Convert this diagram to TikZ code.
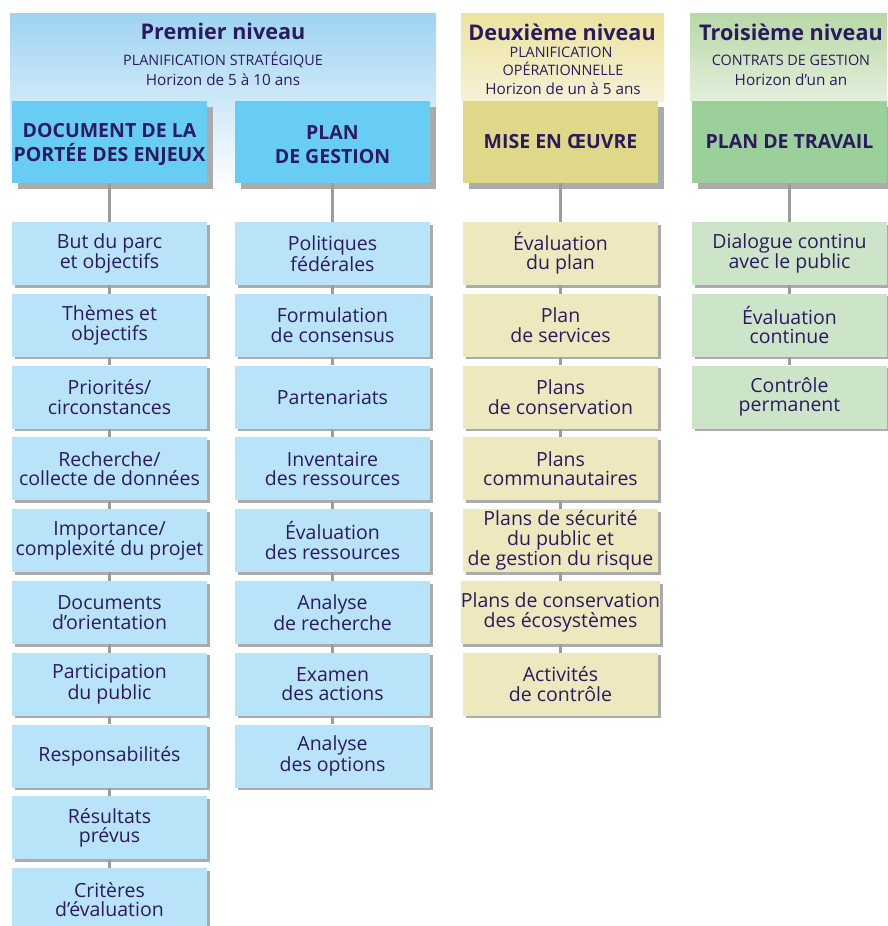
\documentclass[tikz,border=0pt]{standalone}
\usepackage{fontspec}
\setmainfont{Open Sans}
\usetikzlibrary{shadows}
\definecolor{ink}{HTML}{2B1B5E}
\definecolor{shd}{HTML}{ABABAB}
\definecolor{conncol}{HTML}{9C9C9C}
\definecolor{bluetop}{HTML}{68CDF4}
\definecolor{bluechild}{HTML}{B9E3F8}
\definecolor{blueband}{HTML}{9ED3F1}
\definecolor{yeltop}{HTML}{E0D889}
\definecolor{yelchild}{HTML}{EEE8BF}
\definecolor{yelbandA}{HTML}{ECE39E}
\definecolor{yelbandB}{HTML}{F6F1D6}
\definecolor{grntop}{HTML}{9BD09B}
\definecolor{grnchild}{HTML}{CCE5C9}
\definecolor{grnbandA}{HTML}{B7D8A6}
\definecolor{grnbandB}{HTML}{E4EFDC}
\newcommand\childfont{\fontsize{19.5}{19.4}\selectfont}
\newcommand\topfont{\fontsize{19.5}{24}\selectfont\bfseries}
\newcommand\titfont{\fontsize{21.6}{24}\selectfont\bfseries}
\newcommand\capfont{\fontsize{14.4}{18}\selectfont}
\newcommand\subfont{\fontsize{15.3}{18}\selectfont}
\begin{document}
\begin{tikzpicture}[x=1pt,y=-1pt,
  topbox/.style={minimum width=195pt, minimum height=82pt, inner sep=0pt, align=center,
    text=ink, font=\topfont,
    drop shadow={shadow xshift=5.5pt, shadow yshift=-5.5pt, fill=shd, opacity=1}},
  childbox/.style={minimum width=195pt, minimum height=63pt, inner sep=0pt, align=center,
    text=ink, font=\childfont,
    drop shadow={shadow xshift=2.5pt, shadow yshift=-2.5pt, fill=shd, opacity=1}},
  conn/.style={draw=conncol, line width=3pt},
  tit/.style={anchor=base, text=ink, font=\titfont, inner sep=0pt},
  caps/.style={anchor=base, text=ink, font=\capfont, inner sep=0pt},
  sub/.style={anchor=base, text=ink, font=\subfont, inner sep=0pt}]
\useasboundingbox (0,0) rectangle (887,926);
\fill[white] (0,0) rectangle (887,926);
% header bands
\shade[top color=blueband, bottom color=white] (10,13) rectangle (436,190);
\shade[top color=yelbandA, bottom color=yelbandB] (461,13) rectangle (664,101);
\shade[top color=grnbandA, bottom color=grnbandB] (690,13) rectangle (887,101);
% header texts
\node[tit] (h1a) at (223,39) {Premier niveau};
\node[caps] (h1b) at (223,65) {PLANIFICATION STRATÉGIQUE};
\node[sub] (h1c) at (223,85) {Horizon de 5 à 10 ans};
\node[tit] (h3a) at (562,40) {Deuxième niveau};
\node[caps] (h3b) at (561,57) {PLANIFICATION};
\node[caps] (h3c) at (563,75) {OPÉRATIONNELLE};
\node[sub] (h3d) at (563,94) {Horizon de un à 5 ans};
\node[tit] (h4a) at (791,40) {Troisième niveau};
\node[caps] (h4b) at (791,65) {CONTRATS DE GESTION};
\node[sub] (h4c) at (791,85) {Horizon d’un an};
% top boxes
\node[topbox, fill=bluetop] (t1) at (109.5,142) {\rule{0pt}{20pt}DOCUMENT DE LA\\PORTÉE DES ENJEUX};
\node[topbox, fill=bluetop] (t2) at (332.5,142) {\rule{0pt}{20pt}PLAN\\DE GESTION};
\node[topbox, fill=yeltop] (t3) at (560.5,142) {MISE EN ŒUVRE};
\node[topbox, fill=grntop] (t4) at (789.5,142) {PLAN DE TRAVAIL};
% column 1
\foreach \txt [count=\i] in {{But du parc\\et objectifs},{Thèmes et\\objectifs},{Priorités/\\circonstances},
  {Recherche/\\collecte de données},{Importance/\\complexité du projet},{Documents\\d’orientation},
  {Participation\\du public},{Responsabilités},{Résultats\\prévus},{Critères\\d’évaluation}}
  \node[childbox, fill=bluechild] (a\i) at (109.5,{253.5+(\i-1)*71.8}) {\txt};
% column 2
\foreach \txt [count=\i] in {{Politiques\\fédérales},{Formulation\\de consensus},{Partenariats},
  {Inventaire\\des ressources},{Évaluation\\des ressources},{Analyse\\de recherche},
  {Examen\\des actions},{Analyse\\des options}}
  \node[childbox, fill=bluechild] (b\i) at (332.5,{253.5+(\i-1)*71.8}) {\txt};
% column 3
\foreach \txt [count=\i] in {{Évaluation\\du plan},{Plan\\de services},{Plans\\de conservation},
  {Plans\\communautaires},{Plans de sécurité\\du public et\\de gestion du risque},
  {Plans de conservation\\des écosystèmes},{Activités\\de contrôle}}
  \node[childbox, fill=yelchild] (c\i) at (560.5,{253.5+(\i-1)*71.8}) {\txt};
% column 4
\foreach \txt [count=\i] in {{Dialogue continu\\avec le public},{Évaluation\\continue},{Contrôle\\permanent}}
  \node[childbox, fill=grnchild] (d\i) at (789.5,{253.5+(\i-1)*71.8}) {\txt};
% connectors
\draw[conn] (t1.south) -- (a1.north);
\draw[conn] (t2.south) -- (b1.north);
\draw[conn] (t3.south) -- (c1.north);
\draw[conn] (t4.south) -- (d1.north);
\foreach \i [evaluate=\i as \j using int(\i+1)] in {1,...,9} \draw[conn] (a\i.south) -- (a\j.north);
\foreach \i [evaluate=\i as \j using int(\i+1)] in {1,...,7} \draw[conn] (b\i.south) -- (b\j.north);
\foreach \i [evaluate=\i as \j using int(\i+1)] in {1,...,6} \draw[conn] (c\i.south) -- (c\j.north);
\foreach \i [evaluate=\i as \j using int(\i+1)] in {1,...,2} \draw[conn] (d\i.south) -- (d\j.north);
\end{tikzpicture}
\end{document}
